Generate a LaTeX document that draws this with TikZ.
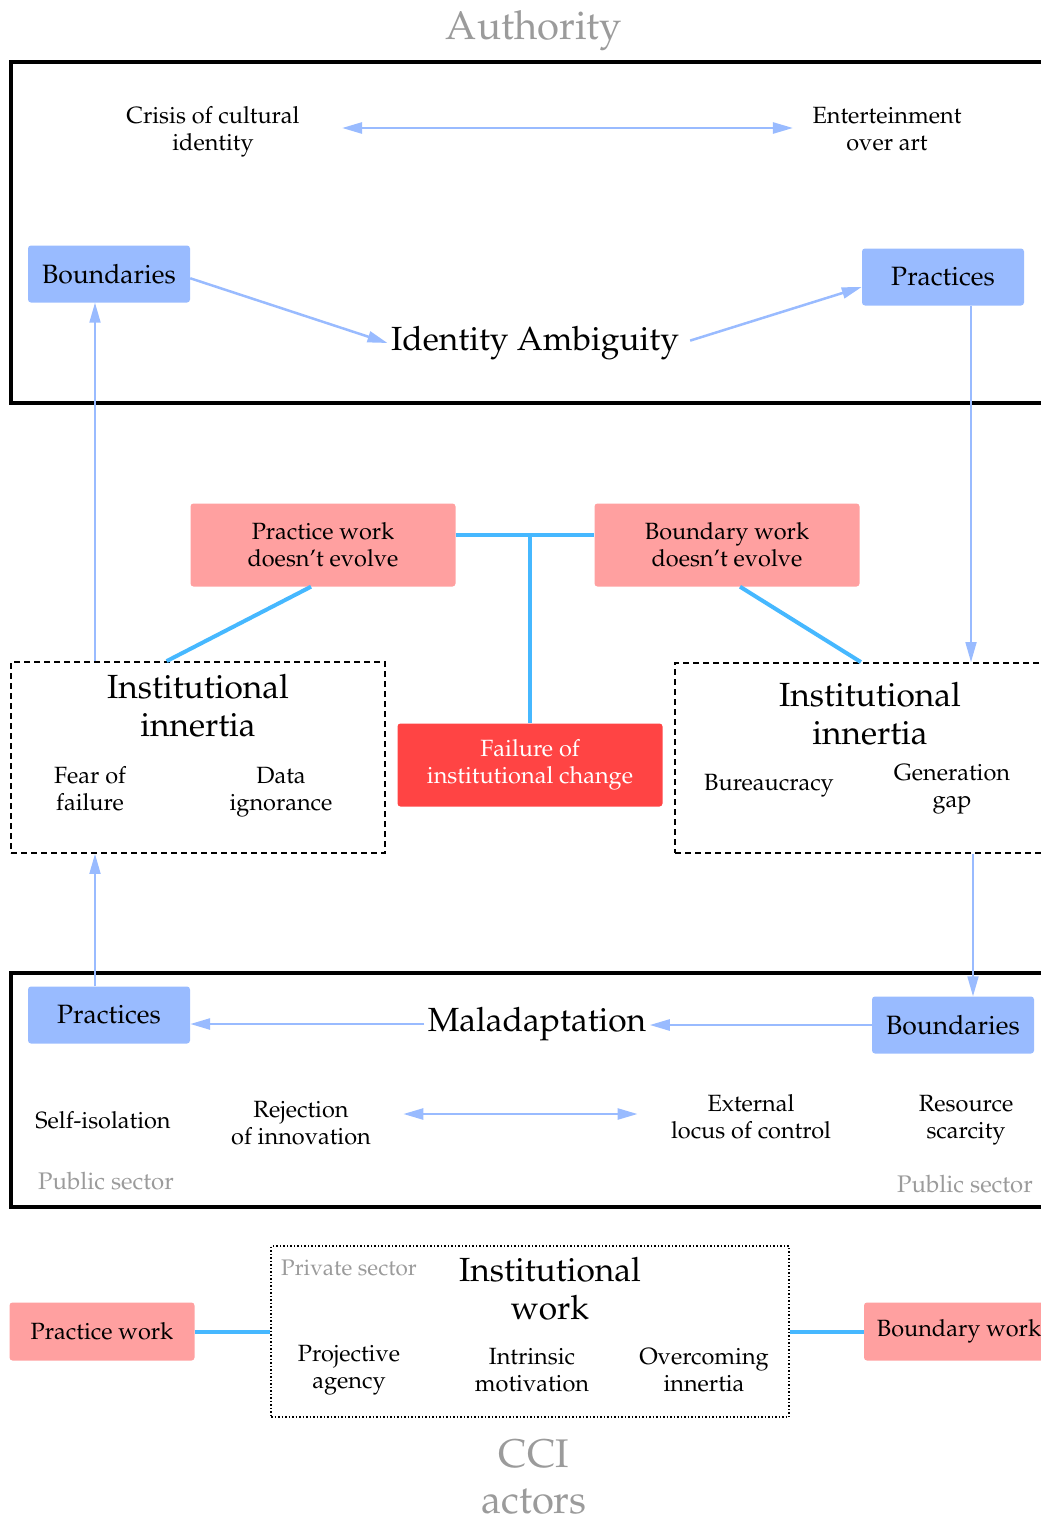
\documentclass[tikz,border=0pt]{standalone}
\usepackage[T1]{fontenc}
\usepackage{mathpazo}
\usetikzlibrary{arrows.meta}
\definecolor{boxblue}{RGB}{153,187,255}
\definecolor{boxpink}{RGB}{255,160,160}
\definecolor{boxred}{RGB}{255,68,68}
\definecolor{linkblue}{RGB}{70,184,255}
\definecolor{labelgray}{RGB}{155,155,155}
\begin{document}
\begin{tikzpicture}[x=1pt,y=-1pt,
  small/.style={font=\fontsize{23.5}{27}\selectfont, align=center},
  big/.style={font=\fontsize{33.5}{38}\selectfont, align=center},
  huge/.style={font=\fontsize{40}{46}\selectfont, align=center, text=labelgray},
  note/.style={font=\fontsize{24}{27}\selectfont, text=labelgray},
  bluebox/.style={fill=boxblue, rounded corners=3pt, minimum width=162pt, minimum height=57pt, font=\fontsize{26.5}{30}\selectfont},
  pinkbox/.style={fill=boxpink, rounded corners=3pt, minimum width=265pt, minimum height=83pt, small},
  frame/.style={draw, line width=4pt},
  dashbox/.style={draw, line width=1.8pt, dash pattern=on 6pt off 4pt, inner sep=0pt},
  feed/.style={draw, boxblue, line width=2.5pt},
  tip/.style={-{Triangle[length=20pt,width=11pt]}},
  twotips/.style={{Triangle[length=20pt,width=11pt]}-{Triangle[length=20pt,width=11pt]}},
  link/.style={draw, linkblue, line width=4pt}]
\useasboundingbox (0,0) rectangle (1041,1523);
\clip (0,0) rectangle (1041,1523);
\node[huge] (auth) at (534,31) {Authority};
\path[frame] (11,62) rectangle (1090,403);
\node[small] (crisis) at (213,132) {Crisis of cultural\\identity};
\node[small] (enter) at (887,129) {Enterteinment\\over art};
\node[bluebox] (bnd1) at (109,274) {Boundaries};
\node[bluebox] (prc1) at (943,277) {Practices};
\node[big] (ia) at (535,343) {Identity Ambiguity};
\path[feed,twotips,shorten <=39pt,shorten >=16pt] ([yshift=4]crisis.east) -- ([yshift=4]crisis.east -| enter.west);
\path[feed,tip] (bnd1.-3) -- (ia.west);
\path[feed,tip,shorten <=8pt] (ia.east) -- (prc1.187);
\node[pinkbox] (pw1) at (323,545) {Practice work\\doesn't evolve};
\node[pinkbox] (bw1) at (727,545) {Boundary work\\doesn't evolve};
\node[pinkbox, fill=boxred, text=white] (fail) at (530,765) {Failure of\\institutional change};
\coordinate (tee) at (530,535);
\path[link] (pw1.east |- tee) -- (bw1.west |- tee);
\path[link] (tee) -- (fail.north);
\node[dashbox, minimum width=374pt, minimum height=191pt] (lbox) at (198,757.5) {};
\node[dashbox, minimum width=392pt, minimum height=190pt] (rbox) at (871,758) {};
\path[link] ([xshift=-12]pw1.south) -- (lbox.108);
\path[link] ([xshift=13]bw1.south) -- (rbox.96);
\path[draw, boxblue, line width=1.8pt, tip] ([xshift=-14]lbox.north -| bnd1.south) -- ([xshift=-14]bnd1.south);
\path[draw, boxblue, line width=1.8pt, tip] ([xshift=28]prc1.south) -- ([xshift=28]prc1.south |- rbox.north);
\node[big] (lt) at (198,706) {Institutional\\innertia};
\node[small] (fear) at (90,789) {Fear of\\failure};
\node[small] (data) at (281,792) {Data\\ignorance};
\node[big] (rt) at (870,714) {Institutional\\innertia};
\node[small] (bur) at (769,786) {Bureaucracy};
\node[small] (gen) at (952,789) {Generation\\gap};
\path[frame] (11,973) rectangle (1090,1207);
\node[bluebox] (prc2) at (109,1015) {Practices};
\node[bluebox] (bnd2) at (953,1025) {Boundaries};
\node[big] (mal) at (537,1024) {Maladaptation};
\path[feed,tip] (mal.west) -- (mal.west -| prc2.east);
\path[feed,tip] (bnd2.west) -- (bnd2.west -| mal.east);
\path[draw, boxblue, line width=1.8pt, tip] ([xshift=-14]prc2.north) -- ([xshift=-14]prc2.north |- lbox.south);
\path[draw, boxblue, line width=1.8pt, tip] ([xshift=20]bnd2.north |- rbox.south) -- ([xshift=20]bnd2.north);
\node[small] (self) at (103,1120) {Self-isolation};
\node[small] (rej) at (301,1123.5) {Rejection\\of innovation};
\node[small] (ext) at (751,1117) {External\\locus of control};
\node[small] (res) at (966,1120) {Resource\\scarcity};
\path[feed,twotips,shorten <=29pt,shorten >=30pt] ([yshift=9.5]rej.east) -- ([yshift=9.5]rej.east -| ext.west);
\node[note] (pub1) at (106,1181) {Public sector};
\node[note] (pub2) at (965,1184) {Public sector};
\node[draw, dotted, line width=1.5pt, minimum width=518pt, minimum height=171pt] (iwbox) at (530,1331.5) {};
\node[note, font=\fontsize{22.5}{24}\selectfont] (prv) at (349,1268) {Private sector};
\node[big] (iwt) at (550,1289) {Institutional\\work};
\node[small] (proj) at (349,1370) {Projective\\agency};
\node[small] (intr) at (532,1370) {Intrinsic\\motivation};
\node[small] (over) at (704,1370) {Overcoming\\innertia};
\node[pinkbox, minimum width=185pt, minimum height=58pt] (pw2) at (102,1331.5) {Practice work};
\node[pinkbox, minimum width=190pt, minimum height=58pt] (bw2) at (959,1331.5) {Boundary work};
\path[link] (pw2.east) -- (iwbox.west);
\path[link] (bw2.west) -- (iwbox.east);
\node[huge, inner sep=0pt] (cci) at (534,1477) {CCI\\actors};
\end{tikzpicture}
\end{document}
